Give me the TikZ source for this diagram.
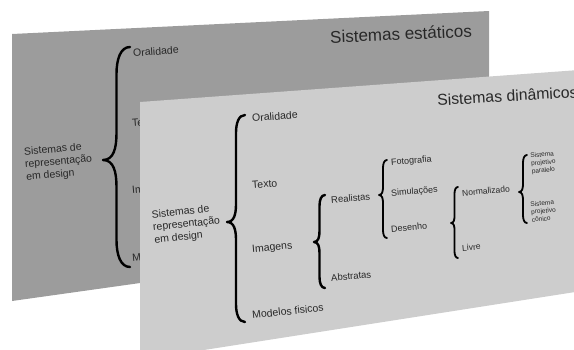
\documentclass[tikz,border=0pt]{standalone}
\usepackage{fontspec}
\setmainfont{Liberation Sans}
\definecolor{backgray}{RGB}{156,156,156}
\definecolor{frontgray}{RGB}{205,205,205}
\definecolor{txt}{RGB}{40,40,40}
\tikzset{
  brc/.style={draw=black, line width=2.4pt, line cap=round, line join=round},
  brcs/.style={draw=black, line width=1.8pt, line cap=round, line join=round},
  lbl/.style={text=txt, anchor=west, inner sep=0pt, align=left},
  fA/.style={font=\fontsize{10.5}{12.6}\selectfont},
  fB/.style={font=\fontsize{9.5}{11}\selectfont},
  fC/.style={font=\fontsize{9}{10.5}\selectfont},
  fD/.style={font=\fontsize{8.5}{10}\selectfont},
  fE/.style={font=\fontsize{6.5}{7.8}\selectfont},
  fbt/.style={font=\fontsize{17}{20}\selectfont},
  fft/.style={font=\fontsize{15.8}{19}\selectfont},
}
% #1 style, #2 name, #3 x end, #4 x tip, #5 y top, #6 y tip, #7 y bottom
\newcommand\cbrace[7]{%
  \pgfmathsetmacro\bw{#3-#4}%
  \pgfmathsetmacro\bs{(#3+#4)/2}%
  \coordinate (#2top) at (#3,#5);
  \coordinate (#2tip) at (#4,#6);
  \coordinate (#2bot) at (#3,#7);
  \draw[#1] (#2top) .. controls ({\bs+0.15*\bw},#5) and (\bs,{#5+0.45*\bw}) .. (\bs,{#5+\bw})
    -- (\bs,{#6-\bw}) .. controls (\bs,{#6-0.45*\bw}) and ({#4+0.4*\bw},#6) .. (#2tip)
    .. controls ({#4+0.4*\bw},#6) and (\bs,{#6+0.45*\bw}) .. (\bs,{#6+\bw})
    -- (\bs,{#7-\bw}) .. controls (\bs,{#7-0.45*\bw}) and ({\bs+0.15*\bw},#7) .. (#2bot);
}
\begin{document}
\begin{tikzpicture}[x=1pt,y=-1pt]
\useasboundingbox (0,0) rectangle (574,349);
\clip (0,0) rectangle (574,349);
% back plane
\fill[backgray] (12,34) -- (489,11) -- (489,234) -- (12,301) -- cycle;
\node[lbl,fbt,rotate=2.5] (btitle) at (330,37) {Sistemas estáticos};
\node[lbl,fA,rotate=5] (bsis) at (25,165) {Sistemas de\\representação\\em design};
\cbrace{brc}{bb}{130}{103}{47}{160}{267}
\node[lbl,fA,rotate=4] (bora) at (133,53) {Oralidade};
\node[lbl,fA,rotate=4.5] (btex) at (132,123) {Texto};
\node[lbl,fA,rotate=5] (bima) at (132,191) {Imagens};
\node[lbl,fA,rotate=5.5] (bmod) at (132,258) {Modelos fisicos};
% front plane
\fill[frontgray] (140,102) -- (620,67) -- (620,285) -- (140,360) -- cycle;
\node[lbl,fft,rotate=3.3] (ftitle) at (437,100) {Sistemas dinâmicos};
\node[lbl,fA,rotate=6] (fsis) at (153,228) {Sistemas de\\representação\\em design};
\cbrace{brc}{fb}{245}{227}{115}{222}{322}
\node[lbl,fA,rotate=4] (fora) at (252,118) {Oralidade};
\node[lbl,fA,rotate=4.5] (ftex) at (252,185) {Texto};
\node[lbl,fA,rotate=5] (fima) at (252,250) {Imagens};
\node[lbl,fA,rotate=6] (fmod) at (252,315) {Modelos fisicos};
\cbrace{brc}{ib}{325}{314}{195}{242}{288}
\node[lbl,fB,rotate=5] (freal) at (331,200) {Realistas};
\node[lbl,fB,rotate=5] (fabs) at (331,278) {Abstratas};
\cbrace{brcs}{rb}{387}{379}{160}{195}{238}
\node[lbl,fC,rotate=5] (ffoto) at (391,163) {Fotografia};
\node[lbl,fC,rotate=5] (fsim) at (391,194) {Simulações};
\node[lbl,fC,rotate=5] (fdes) at (391,229) {Desenho};
\cbrace{brcs}{db}{458}{451}{187}{223}{258}
\node[lbl,fD,rotate=5] (fnor) at (462,193) {Normalizado};
\node[lbl,fD,rotate=5] (fliv) at (462,248) {Livre};
\cbrace{brcs}{nb}{527}{519}{155}{192}{223}
\node[lbl,fE,rotate=5] (fpar) at (531,164) {Sistema\\projetivo\\paralelo};
\node[lbl,fE,rotate=5] (fcon) at (531,212) {Sistema\\projetivo\\cônico};
\end{tikzpicture}
\end{document}
